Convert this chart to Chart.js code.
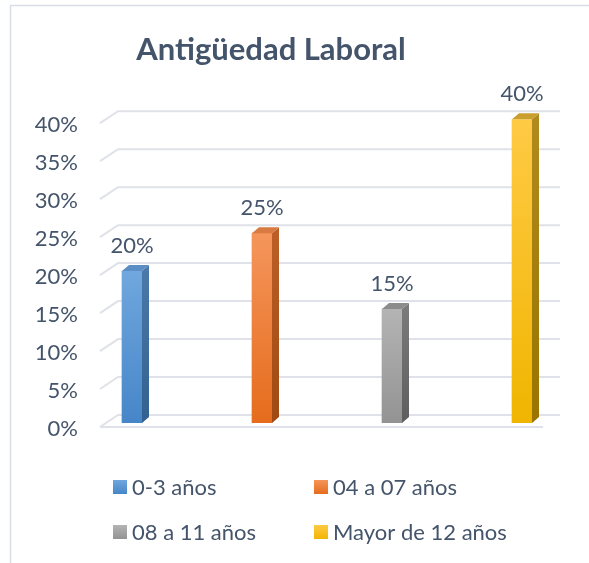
<!DOCTYPE html>
<html>
<head>
<meta charset="utf-8">
<style>
  html, body { margin: 0; padding: 0; background: #fff; }
</style>
</head>
<body>
<canvas id="bar" width="589" height="563"></canvas>
<script src="https://cdn.jsdelivr.net/npm/chart.js@4.4.0/dist/chart.umd.min.js"></script>
<script>
let categories = ['0-3 años', '04 a 07 años', '08 a 11 años', 'Mayor de 12 años']
let values = [20, 25, 15, 40]
let yTicks = [0, 5, 10, 15, 20, 25, 30, 35, 40]

// front light, front dark, side light, side dark, top face
let colors = [
  ['#70a7de', '#4686c8', '#4a78a8', '#33618f', '#5b8ec4'],
  ['#f5955c', '#e56c1c', '#bb5f26', '#9e4a12', '#d97a42'],
  ['#b4b4b4', '#939393', '#7a7a7a', '#5e5e5e', '#8c8c8c'],
  ['#ffca45', '#f0b500', '#b08a1c', '#9a7400', '#c9a030']
]
const textColor = '#44546a'

function grad(ctx, y0, y1, c0, c1) {
  let g = ctx.createLinearGradient(0, y0, 0, y1)
  g.addColorStop(0, c0)
  g.addColorStop(1, c1)
  return g
}

let frame = {
  id: 'frame',
  beforeDraw(chart) {
    let ctx = chart.ctx
    ctx.save()
    ctx.strokeStyle = '#d9dee6'
    ctx.lineWidth = 1.5
    ctx.beginPath()
    ctx.moveTo(10.5, chart.height)
    ctx.lineTo(10.5, 5.5)
    ctx.lineTo(chart.width, 5.5)
    ctx.stroke()
    ctx.restore()
  }
}

// slanted floor gridlines of the 3d look
let floorGrid = {
  id: 'floorGrid',
  beforeDatasetsDraw(chart) {
    let { ctx, chartArea: a, scales: { y } } = chart
    ctx.save()
    ctx.strokeStyle = '#dfe2e8'
    ctx.lineWidth = 2
    y.ticks.forEach(t => {
      let p = y.getPixelForValue(t.value)
      ctx.beginPath()
      ctx.moveTo(a.left, p + 4)
      ctx.lineTo(a.left + 18, p - 8)
      ctx.lineTo(a.right + 28, p - 8)
      ctx.stroke()
    })
    let p0 = y.getPixelForValue(0)
    ctx.beginPath()
    ctx.moveTo(a.left, p0 + 4)
    ctx.lineTo(a.right + 11, p0 + 4)
    ctx.stroke()
    ctx.restore()
  }
}

// side + top faces and value labels
let depth = {
  id: 'depth',
  afterDatasetsDraw(chart) {
    let ctx = chart.ctx
    chart.data.datasets.forEach((ds, i) => {
      let bar = chart.getDatasetMeta(i).data[0]
      let { x, y, base, width } = bar.getProps(['x', 'y', 'base', 'width'], true)
      let l = x - width / 2, r = x + width / 2, dx = 7, dy = 6
      let c = colors[i]
      ctx.save()
      ctx.fillStyle = grad(ctx, y, base, c[2], c[3])
      ctx.beginPath()
      ctx.moveTo(r, y)
      ctx.lineTo(r + dx, y - dy)
      ctx.lineTo(r + dx, base - dy)
      ctx.lineTo(r, base)
      ctx.closePath()
      ctx.fill()
      ctx.fillStyle = c[4]
      ctx.beginPath()
      ctx.moveTo(l, y)
      ctx.lineTo(l + dx, y - dy)
      ctx.lineTo(r + dx, y - dy)
      ctx.lineTo(r, y)
      ctx.closePath()
      ctx.fill()
      ctx.fillStyle = textColor
      ctx.font = '22px Lato'
      ctx.textAlign = 'center'
      ctx.textBaseline = 'middle'
      ctx.fillText(ds.data[0].y + '%', x, y - 25)
      ctx.restore()
    })
  }
}

// two column legend like excel's
let gridLegend = {
  id: 'gridLegend',
  afterDraw(chart) {
    let { ctx, chartArea: a } = chart
    ctx.save()
    chart.data.datasets.forEach((ds, i) => {
      let c = colors[i]
      let bx = a.left + 13 + (i % 2) * 201
      let cy = a.bottom + 64 + Math.floor(i / 2) * 45
      ctx.fillStyle = grad(ctx, cy - 7, cy + 7, c[0], c[1])
      ctx.fillRect(bx, cy - 7, 14, 14)
      ctx.fillStyle = textColor
      ctx.font = '22px Lato'
      ctx.textAlign = 'left'
      ctx.textBaseline = 'middle'
      ctx.fillText(ds.label, bx + 19, cy + 1)
    })
    ctx.restore()
  }
}

let chart1 = document.getElementById('bar')
let antiguedad = new Chart(chart1, {
  type: 'bar',
  data: {
    datasets: categories.map((cat, i) => ({
      label: cat,
      data: [{ x: i, y: values[i] }],
      grouped: false,
      barThickness: 20,
      backgroundColor: ctx => {
        let y = ctx.chart.scales.y
        if (!ctx.chart.chartArea || !y) return colors[i][1]
        return grad(ctx.chart.ctx, y.getPixelForValue(values[i]), y.getPixelForValue(0), colors[i][0], colors[i][1])
      }
    }))
  },
  options: {
    responsive: false,
    animation: false,
    layout: { padding: { left: 10, right: 57, top: 0, bottom: 140 } },
    plugins: {
      legend: { display: false },
      tooltip: { enabled: false },
      title: {
        display: true,
        text: 'Antigüedad Laboral',
        color: textColor,
        font: { family: 'Lato', size: 31, weight: 'bold' },
        padding: { top: 31, bottom: 51 }
      }
    },
    scales: {
      x: {
        type: 'linear',
        display: false,
        offset: false,
        min: -32 / 130,
        max: 3 + 10 / 130
      },
      y: {
        min: 0,
        max: 40,
        afterFit: s => { s.width = 90 },
        afterBuildTicks: s => { s.ticks = yTicks.map(v => ({ value: v })) },
        grid: { display: false, drawTicks: false },
        border: { display: false },
        ticks: {
          padding: 22,
          labelOffset: 6,
          color: textColor,
          font: { family: 'Lato', size: 22 },
          callback: v => v + '%'
        }
      }
    }
  },
  plugins: [frame, floorGrid, depth, gridLegend]
})
</script>
</body>
</html>
